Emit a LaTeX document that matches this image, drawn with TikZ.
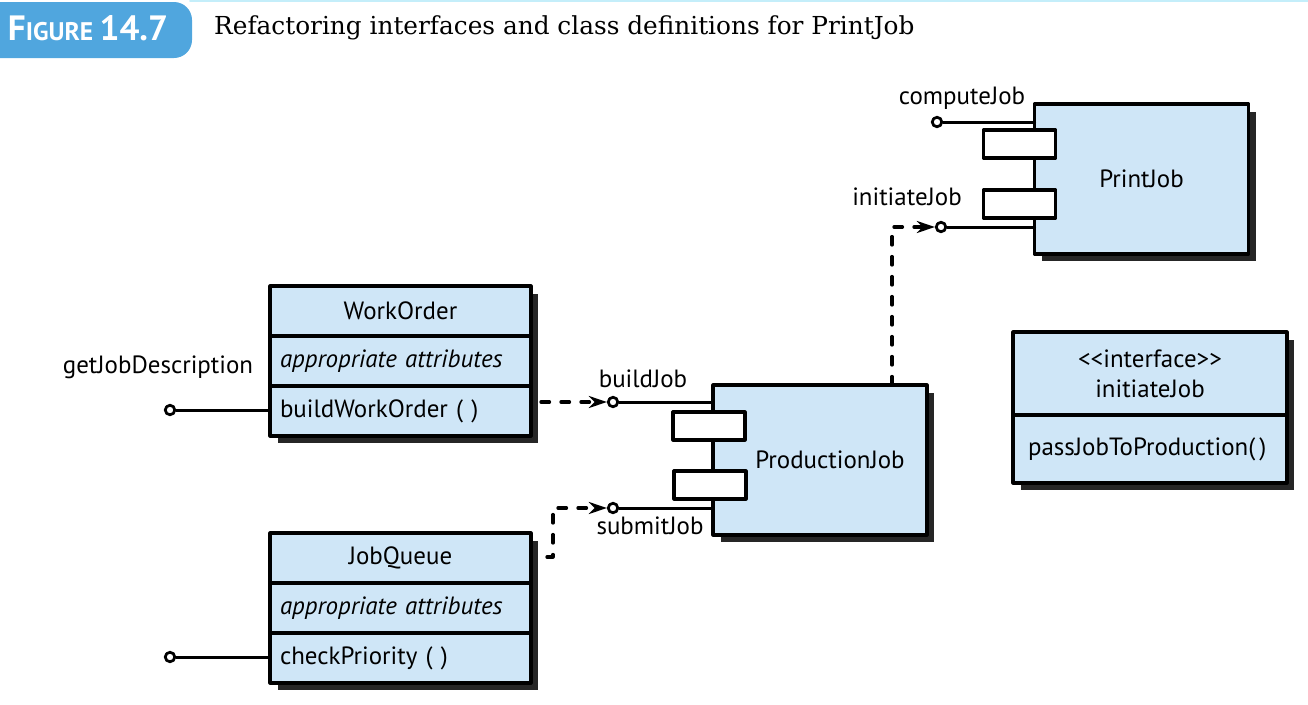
\documentclass[tikz,border=0pt]{standalone}
\usepackage{fontspec}
\setmainfont{PT Sans}
\newfontfamily\capfont{DejaVu Serif}
\usetikzlibrary{positioning,arrows.meta,shadows}
\definecolor{boxblue}{RGB}{207,230,247}
\definecolor{figblue}{RGB}{80,166,222}
\definecolor{rulecyan}{RGB}{196,238,250}
\begin{document}
\begin{tikzpicture}[line cap=round,line join=round,>={Stealth[length=0.36cm,width=0.24cm]},x=0.02cm,y=-0.02cm,
    font=\fontsize{14.2}{17}\selectfont,
    part/.style={draw,fill=boxblue,line width=0.065cm,outer sep=0pt,minimum width=5.22cm,minimum height=1cm,inner xsep=0.2cm,
      drop shadow={shadow xshift=0.15cm,shadow yshift=-0.15cm,fill=black!85,opacity=1}},
    row/.style={part,text width=4.82cm,align=left},
    comp/.style={part,minimum width=4.28cm,minimum height=3cm},
    tab/.style={draw,fill=white,line width=0.065cm,minimum width=1.44cm,minimum height=0.56cm},
    port/.style={circle,draw,fill=white,line width=0.055cm,inner sep=0pt,minimum size=0.19cm},
    wire/.style={line width=0.06cm},
    dep/.style={line width=0.065cm,dash pattern=on 0.17cm off 0.23cm,->}]
  \useasboundingbox (0,0) rectangle (1308,704);
  % header
  \draw[rulecyan,line width=0.04cm] (190,1)--(1308,1);
  \fill[figblue,rounded corners=0.36cm] (-40,2) rectangle (192,58);
  \node[text=white,font=\bfseries] (figtag) at (88,28) {\fontsize{20}{24}\selectfont F\fontsize{14.5}{24}\selectfont IGURE\ \fontsize{20}{24}\selectfont 14.7};
  \node[anchor=west,font=\capfont\fontsize{14.1}{17}\selectfont] (caption) at (208,28) {Refactoring interfaces and class definitions for PrintJob};
  % classes
  \node[part] (workorder) at (400.5,311) {WorkOrder};
  \node[row,below=0pt of workorder] (workorder-attr) {\itshape appropriate attributes};
  \node[row,below=0pt of workorder-attr] (workorder-ops) {buildWorkOrder ( )};
  \node[part] (jobqueue) at (400.5,558) {JobQueue};
  \node[row,below=0pt of jobqueue] (jobqueue-attr) {\itshape appropriate attributes};
  \node[row,below=0pt of jobqueue-attr] (jobqueue-ops) {checkPriority ( )};
  \node[part,minimum width=5.48cm,minimum height=1.66cm,align=center] (iface) at (1150,373.5) {<{}<interface>{}>\\initiateJob};
  \node[row,minimum width=5.48cm,minimum height=1.36cm,inner xsep=0.3cm,text width=4.88cm,below=0pt of iface] (iface-ops) {\mbox{passJobToProduction(\,)}\\[-4pt]};
  % components
  \node[comp] (prodjob) at (820,460) {\hspace*{0.4cm}ProductionJob};
  \node[tab] (prodjob-tab1) at (709,426) {};
  \node[tab] (prodjob-tab2) at (710,485) {};
  \node[comp] (printjob) at (1141.5,179) {PrintJob};
  \node[tab] (printjob-tab1) at (1019.5,144) {};
  \node[tab] (printjob-tab2) at (1019.5,204) {};
  % interfaces
  \node[port] (getjob) at (170,410) {};
  \node[port] (checkprio) at (170,657) {};
  \node[port] (buildjob) at (613,402) {};
  \node[port] (submitjob) at (613,508) {};
  \node[port] (computejob) at (937,122) {};
  \node[port] (initiatejob) at (941,227) {};
  \draw[wire] (getjob)--(getjob -| workorder-ops.west);
  \draw[wire] (checkprio)--(checkprio -| jobqueue-ops.west);
  \draw[wire] (buildjob)--(buildjob -| prodjob.west);
  \draw[wire] (submitjob)--(submitjob -| prodjob.west);
  \draw[wire] (computejob)--(computejob -| printjob.west);
  \draw[wire] (initiatejob)--(initiatejob -| printjob.west);
  \node (getjob-label) at (158,367) {getJobDescription};
  \node (buildjob-label) at (643,379) {buildJob};
  \node (submitjob-label) at (650,526) {submitJob};
  \node (computejob-label) at (962,98) {computeJob};
  \node (initiatejob-label) at (907,197) {initiateJob};
  % dependencies
  \coordinate (wo-out) at (541,402);
  \coordinate (jq-out) at (547,557);
  \coordinate (pj-up) at (892,385);
  \draw[dep] (wo-out)--(buildjob);
  \draw[dep] (jq-out)--++(6,0)|-(submitjob);
  \draw[dep] (pj-up)|-(initiatejob);
\end{tikzpicture}
\end{document}
